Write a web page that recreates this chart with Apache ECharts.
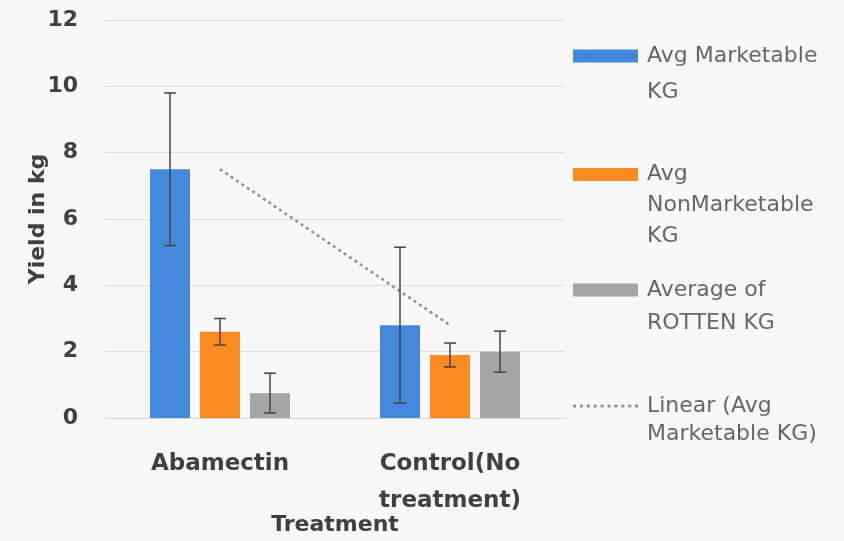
<!DOCTYPE html>
<html><head><meta charset="utf-8">
<script src="https://cdn.jsdelivr.net/npm/echarts@6/dist/echarts.min.js"></script>
<style>html,body{margin:0;padding:0;background:#f8f8f8}#c{width:844px;height:541px}</style>
</head><body><div id="c"></div>
<script>
// ---- data ----
const categories = ['Abamectin', 'Control(No\ntreatment)'];
const marketable = [7.5, 2.8];
const nonMarketable = [2.6, 1.9];
const rotten = [0.75, 2.0];
const marketableErr = [2.3, 2.35];
const nonMarketableErr = [0.4, 0.36];
const rottenErr = [0.6, 0.62];
const seriesNames = ['Avg Marketable KG', 'Avg NonMarketable KG', 'Average of ROTTEN KG', 'Linear (Avg Marketable KG)'];
const legendLabels = ['Avg Marketable\nKG', 'Avg\nNonMarketable\nKG', 'Average of\nROTTEN KG', 'Linear (Avg\nMarketable KG)'];
const yMin = 0, yMax = 12, yStep = 2;

// ---- styles ----
const colors = ['#4589dc', '#fb8a22', '#a5a5a5', '#8b909a'];
const BAR_W = 40, BAR_GAP = 10;
const FONT = 'DejaVu Sans';

// linear trendline (least squares over category index)
function linearFit(vals) {
  const n = vals.length;
  let sx = 0, sy = 0, sxx = 0, sxy = 0;
  vals.forEach((v, i) => { sx += i; sy += v; sxx += i * i; sxy += i * v; });
  const b = (n * sxy - sx * sy) / (n * sxx - sx * sx);
  const a = (sy - b * sx) / n;
  return vals.map((_, i) => a + b * i);
}
const trend = linearFit(marketable);

// error bar data: [category, value, err, seriesIdx]
const errData = [];
[[marketable, marketableErr], [nonMarketable, nonMarketableErr], [rotten, rottenErr]].forEach(([vals, errs], s) => {
  vals.forEach((v, i) => errData.push([i, v, errs[i], s]));
});

// legend icons
function rectIcon(n, L) {
  const H = n * L, c = L / 2;
  return `path://M0,0L0,0M0,${c - 6.5}H65V${c + 6.5}H0ZM69,${H}L69,${H}`;
}
function dotIcon(n, L) {
  const H = n * L, c = L / 2;
  let p = 'path://M0,0L0,0';
  for (let k = 0; k < 10; k++) {
    const x = k * 6.9;
    p += `M${x},${c - 1.2}h3v2.6h-3z`;
  }
  p += `M69,${H}L69,${H}`;
  return p;
}
const legendSpec = [
  { lines: 2, L: 36, top: 38, icon: rectIcon },
  { lines: 3, L: 31, top: 159, icon: rectIcon },
  { lines: 2, L: 33, top: 273.5, icon: rectIcon },
  { lines: 2, L: 28, top: 392, icon: dotIcon }
];
const legends = legendSpec.map((sp, i) => ({
  data: [seriesNames[i]],
  left: 573, top: sp.top, orient: 'vertical', padding: 0,
  itemWidth: 69, itemHeight: sp.lines * sp.L,
  icon: sp.icon(sp.lines, sp.L),
  selectedMode: false,
  formatter: () => legendLabels[i],
  textStyle: { fontFamily: FONT, fontSize: 22, color: '#666666', lineHeight: sp.L }
}));

const chart = echarts.init(document.getElementById('c'), null, { renderer: 'canvas' });
chart.setOption({
  backgroundColor: '#f8f8f8',
  animation: false,
  grid: { left: 105, right: 279, top: 20, bottom: 123 },
  legend: legends,
  xAxis: {
    type: 'category', data: categories,
    name: 'Treatment', nameLocation: 'middle', nameGap: 96, nameMoveOverlap: false,
    nameTextStyle: { fontFamily: FONT, fontSize: 22, fontWeight: 'bold', color: '#404040' },
    axisLine: { lineStyle: { color: '#d6d6d6', width: 1 } },
    axisTick: { show: false },
    axisLabel: { fontFamily: FONT, fontSize: 23, fontWeight: 'bold', color: '#404040', lineHeight: 37, margin: 28, interval: 0 }
  },
  yAxis: {
    type: 'value', min: yMin, max: yMax, interval: yStep,
    name: 'Yield in kg', nameLocation: 'middle', nameGap: 56, nameRotate: 90, nameMoveOverlap: false,
    nameTextStyle: { fontFamily: FONT, fontSize: 22, fontWeight: 'bold', color: '#404040' },
    axisLine: { show: false }, axisTick: { show: false },
    axisLabel: { fontFamily: FONT, fontSize: 22, fontWeight: 'bold', color: '#404040', margin: 27 },
    splitLine: { lineStyle: { color: '#dcdcdc', width: 1 } }
  },
  series: [
    { name: seriesNames[0], type: 'bar', data: marketable, barWidth: BAR_W, barGap: '25%', itemStyle: { color: colors[0] } },
    { name: seriesNames[1], type: 'bar', data: nonMarketable, barWidth: BAR_W, barGap: '25%', itemStyle: { color: colors[1] } },
    { name: seriesNames[2], type: 'bar', data: rotten, barWidth: BAR_W, barGap: '25%', itemStyle: { color: colors[2] } },
    {
      name: seriesNames[3], type: 'custom', data: trend.map((v, i) => [i, v]),
      encode: { x: 0, y: 1 }, itemStyle: { color: colors[3] }, z: 5,
      renderItem(params, api) {
        const i = params.dataIndex;
        if (i >= trend.length - 1) return null;
        const p1 = api.coord([i, trend[i]]);
        const p2 = api.coord([i + 1, trend[i + 1]]);
        return { type: 'line', shape: { x1: p1[0], y1: p1[1], x2: p2[0], y2: p2[1] },
          style: { stroke: colors[3], lineWidth: 2.5, lineDash: [3, 3.5], fill: null } };
      }
    },
    {
      name: 'errors', type: 'custom', data: errData, encode: { x: 0, y: 1 }, z: 6,
      renderItem(params, api) {
        const cat = api.value(0), v = api.value(1), e = api.value(2), s = api.value(3);
        const off = (s - 1) * (BAR_W + BAR_GAP);
        const t = api.coord([cat, v + e]), b = api.coord([cat, v - e]);
        const x = t[0] + off;
        const st = { stroke: '#454545', lineWidth: 1.5 };
        return { type: 'group', children: [
          { type: 'line', shape: { x1: x, y1: t[1], x2: x, y2: b[1] }, style: st },
          { type: 'line', shape: { x1: x - 6, y1: t[1], x2: x + 6, y2: t[1] }, style: st },
          { type: 'line', shape: { x1: x - 6, y1: b[1], x2: x + 6, y2: b[1] }, style: st }
        ] };
      }
    }
  ]
});
</script>
</body></html>
